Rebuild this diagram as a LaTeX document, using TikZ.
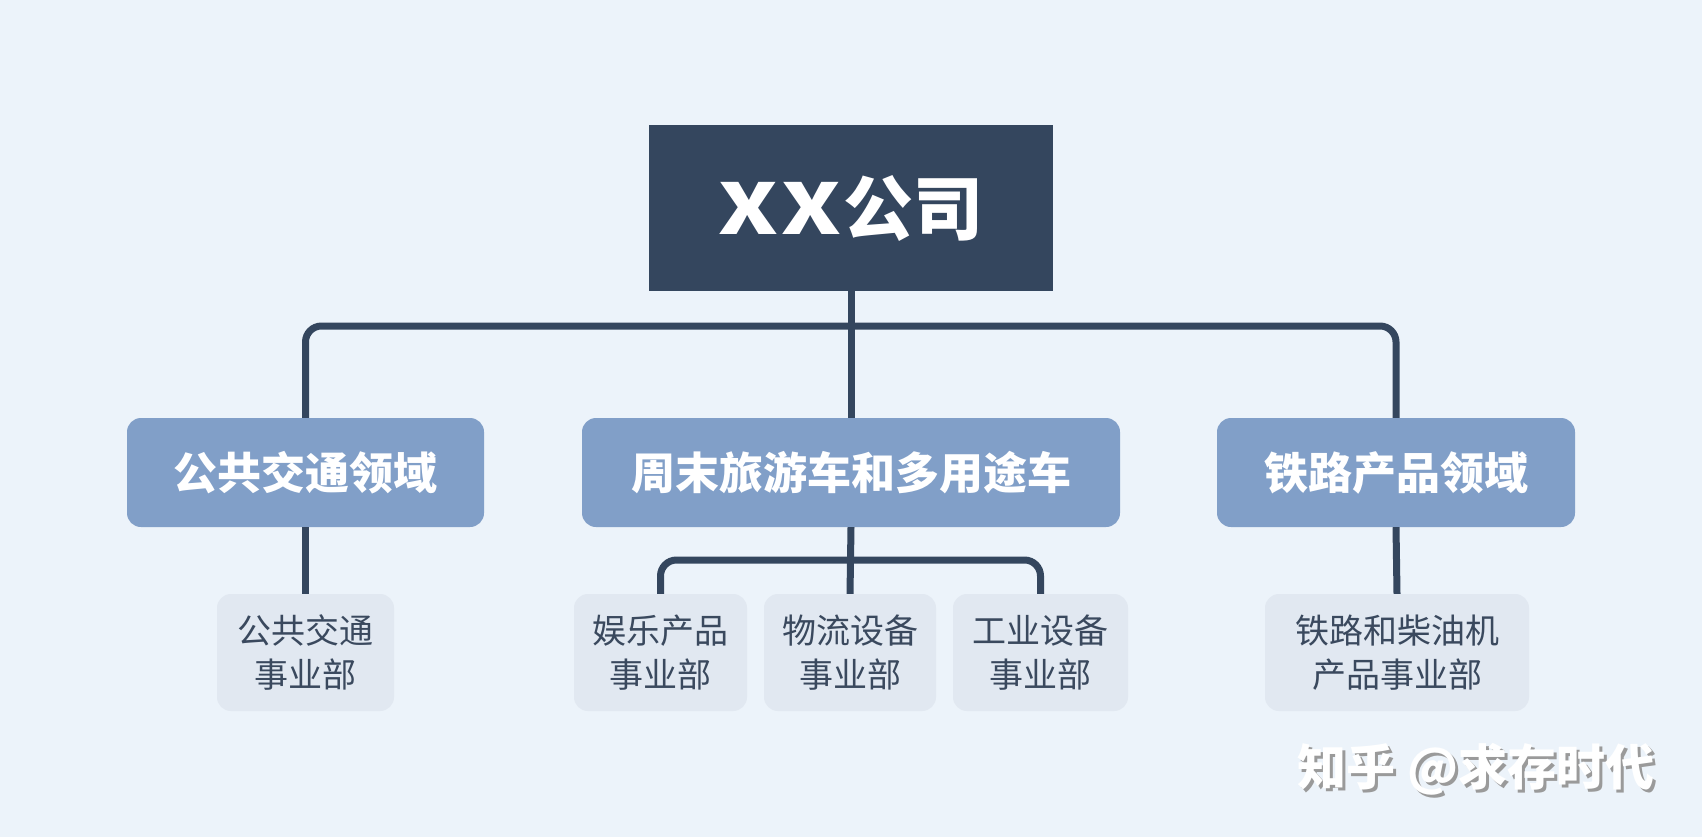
\documentclass[tikz,border=0pt]{standalone}
\usepackage{fontspec}
\setmainfont{Noto Sans CJK SC}
\definecolor{bgc}{HTML}{ECF3FA}
\definecolor{topc}{HTML}{34465E}
\definecolor{midc}{HTML}{819FC8}
\definecolor{smallc}{HTML}{E1E8F1}
\definecolor{stxt}{HTML}{3A495E}
\definecolor{shadowc}{HTML}{9A9A9A}
\newcommand{\wideX}{\scalebox{1.3}[1.0]{X}}
\tikzset{
  topbox/.style={fill=topc, text=white, minimum width=404pt, minimum height=166pt, inner sep=0pt,
    font=\bfseries\fontsize{70}{74}\selectfont},
  midbox/.style={fill=midc, text=white, rounded corners=14pt, minimum height=109pt, inner sep=0pt,
    font=\bfseries\fontsize{44}{50}\selectfont},
  smallbox/.style={fill=smallc, text=stxt, rounded corners=14pt, minimum height=117pt, inner sep=0pt,
    align=center, font=\fontsize{34}{44}\selectfont},
  conn/.style={draw=topc, line width=7pt},
  wm/.style={font=\bfseries\fontsize{49}{52}\selectfont, inner sep=0pt}
}
\begin{document}
\begin{tikzpicture}[x=1pt,y=-1pt]
\useasboundingbox (0,0) rectangle (1702,837);
\fill[bgc] (0,0) rectangle (1702,837);
% nodes
\node[topbox] (top) at (851,208) {\wideX\kern3pt\wideX\kern3pt 公司};
\node[midbox, minimum width=357pt] (lb) at (305.5,472.5) {公共交通领域};
\node[midbox, minimum width=538pt] (mb) at (851,472.5) {周末旅游车和多用途车};
\node[midbox, minimum width=358pt] (rb) at (1396,472.5) {铁路产品领域};
\node[smallbox, minimum width=177pt] (s0) at (305.5,652.5) {公共交通\\事业部};
\node[smallbox, minimum width=173pt] (s1) at (660.5,652.5) {娱乐产品\\事业部};
\node[smallbox, minimum width=172pt] (s2) at (850,652.5) {物流设备\\事业部};
\node[smallbox, minimum width=175pt] (s3) at (1040.5,652.5) {工业设备\\事业部};
\node[smallbox, minimum width=264pt] (s4) at (1397,652.5) {铁路和柴油机\\产品事业部};
\coordinate (bus) at (851,326);
\coordinate (bus2) at (851,560);
% connectors
\draw[conn] (top.south) -- (mb.north);
\draw[conn, rounded corners=16pt] (lb.north) -- (lb.north |- bus) -- (rb.north |- bus) -- (rb.north);
\draw[conn] (lb.south) -- (s0.north);
\draw[conn] (mb.south) -- (s2.north);
\draw[conn, rounded corners=16pt] (s1.north) -- (s1.north |- bus2) -- (s3.north |- bus2) -- (s3.north);
\draw[conn] (rb.south) -- (s4.north);
% watermark
\node[wm, text=shadowc] (wms) at (1479,772) {知乎 @求存时代};
\node[wm, text=white] (wmt) at (1476,769) {知乎 @求存时代};
\end{tikzpicture}
\end{document}
